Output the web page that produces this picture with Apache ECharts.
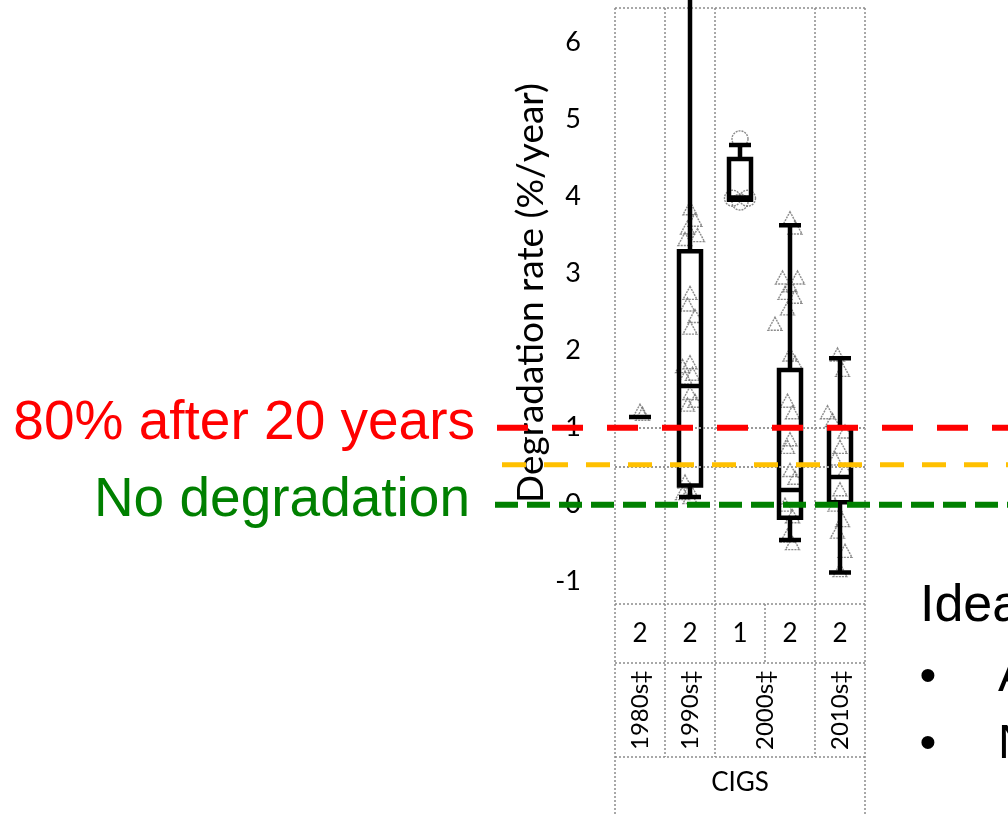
<!DOCTYPE html>
<html>
<head>
<meta charset="utf-8">
<script src="https://cdn.jsdelivr.net/npm/echarts@6/dist/echarts.min.js"></script>
<style>
  html, body { margin: 0; padding: 0; background: #fff; }
  #chart { width: 1008px; height: 815px; }
</style>
</head>
<body>
<div id="chart"></div>
<script>
// groups along the x axis (one box each)
const categories = ['CIGS 1980s', 'CIGS 1990s', 'CIGS 2000s a', 'CIGS 2000s b', 'CIGS 2010s'];
// [min, Q1, median, Q3, max] in %/year
const boxValues = [
  [1.14, 1.14, 1.14, 1.14, 1.14],
  [0.10, 0.25, 1.54, 3.29, 7.00],
  [3.96, 3.96, 3.99, 4.49, 4.67],
  [-0.46, -0.17, 0.19, 1.75, 3.63],
  [-0.88, 0.03, 0.36, 1.00, 1.90]
];
// individual results, [group position, rate]
const trianglePoints = [
  [0.0, 1.22], [0.05, 1.18],
  [1.0, 3.85], [1.1, 3.7], [0.95, 3.6], [1.15, 3.5], [0.9, 3.45],
  [1.0, 2.75], [0.95, 2.6], [1.1, 2.45], [1.0, 2.3],
  [0.85, 1.8], [1.0, 1.85], [0.9, 1.65], [1.05, 1.7],
  [1.0, 1.45], [0.95, 1.3], [1.1, 1.35],
  [0.9, 0.3], [1.0, 0.2], [0.85, 0.15], [1.0, 0.1],
  [3.0, 3.72], [3.1, 3.6],
  [2.85, 2.95], [3.15, 2.95], [3.0, 2.85], [2.9, 2.75], [3.1, 2.7],
  [2.95, 2.55], [2.7, 2.35],
  [3.0, 1.95], [3.1, 1.85],
  [2.95, 1.35], [3.05, 1.2],
  [3.0, 0.85], [2.95, 0.75],
  [3.0, 0.45], [3.1, 0.35],
  [2.9, 0.0], [3.05, -0.15],
  [2.95, -0.4], [3.05, -0.5],
  [3.95, 1.95], [4.05, 1.75], [3.75, 1.2], [3.85, 1.1], [4.1, 0.95],
  [4.0, 0.75], [3.9, 0.6], [4.1, 0.45], [4.0, 0.2], [3.9, 0.0],
  [4.05, -0.2], [3.95, -0.35], [4.1, -0.6], [4.0, -0.85]
];
const circlePoints = [[2.0, 4.75], [1.85, 3.98], [2.15, 3.98], [2.0, 3.93]];

// table under the plot
const studyCounts = ['2', '2', '1', '2', '2'];
const decadeLabels = ['1980s\u2021', '1990s\u2021', '2000s\u2021', '2010s\u2021'];
const decadeSpans = [[0, 0], [1, 1], [2, 3], [4, 4]];
const techLabel = 'CIGS';

// reference levels in %/year
const refValues = [1, 0.52, 0];
const refTexts = ['80% after 20 years', '', 'No degradation'];
const slideTitle = 'Ideal';
const slideBullets = ['A', 'N'];

const yMin = -1.29, yMax = 6.45;

const chart = echarts.init(document.getElementById('chart'));

chart.setOption({
  animation: false,
  grid: { left: 615, right: 143, top: 8, bottom: 211 },
  xAxis: [
    {
      type: 'category', data: categories,
      axisLabel: { show: false }, axisTick: { show: false },
      axisLine: { show: false }, splitLine: { show: false }
    },
    {
      type: 'value', min: -0.5, max: 4.5, show: false
    }
  ],
  yAxis: {
    type: 'value', min: yMin, max: yMax, minInterval: 1, maxInterval: 1,
    name: 'Degradation rate (%/year)', nameLocation: 'middle', nameGap: 65,
    nameTextStyle: { fontFamily: 'Lato', fontSize: 37, color: '#000', padding: [0, 0, 0, 26] },
    axisLine: { show: false }, axisTick: { show: false }, splitLine: { show: false },
    axisLabel: {
      fontFamily: 'Lato', fontSize: 27, color: '#000', margin: 34,
      showMinLabel: false, showMaxLabel: false
    }
  },
  series: [
    {
      type: 'scatter', xAxisIndex: 1, data: trianglePoints,
      symbol: 'triangle', symbolSize: [14, 13], z: 1,
      itemStyle: { color: 'rgba(0,0,0,0)', borderColor: '#6e6e6e', borderWidth: 1.4, borderType: [2, 1] }
    },
    {
      type: 'scatter', xAxisIndex: 1, data: circlePoints,
      symbol: 'circle', symbolSize: 16, z: 1,
      itemStyle: { color: 'rgba(0,0,0,0)', borderColor: '#6e6e6e', borderWidth: 1.4, borderType: [2, 1] }
    },
    {
      type: 'boxplot', data: boxValues, boxWidth: [22, 22], z: 3,
      itemStyle: { color: 'rgba(0,0,0,0)', borderColor: '#000', borderWidth: 4.5 },
      markLine: {
        silent: true, symbol: 'none', label: { show: false },
        lineStyle: { color: '#999', type: [2, 2], width: 2 },
        data: [{ yAxis: 1 }, { yAxis: 0.49 }]
      }
    }
  ]
});

// table lines, texts and reference lines placed through the axes
const px = v => chart.convertToPixel({ xAxisIndex: 1 }, v);
const py = v => chart.convertToPixel({ yAxisIndex: 0 }, v);
const plotTop = py(yMax), plotBottom = py(yMin);
const xLeft = px(-0.5), xRight = px(studyCounts.length - 0.5);
const row1 = plotBottom + 59, row2 = row1 + 94, tableBottom = 815;
const gray = { stroke: '#8c8c8c', lineWidth: 1.5, lineDash: [2, 2] };
const g = [];
const vline = (x, y1, y2) => g.push({ type: 'line', shape: { x1: x, y1: y1, x2: x, y2: y2 }, style: gray, z: 0 });
const hline = (y) => g.push({ type: 'line', shape: { x1: xLeft, y1: y, x2: xRight, y2: y }, style: gray, z: 0 });

hline(plotTop); hline(plotBottom); hline(row1); hline(row2);
vline(xLeft, plotTop, tableBottom); vline(xRight, plotTop, tableBottom);
decadeSpans.forEach((s, i) => {
  if (i > 0) vline(px(s[0] - 0.5), plotTop, row2);
});
studyCounts.forEach((c, i) => {
  if (i > 0 && !decadeSpans.some(s => s[0] === i)) vline(px(i - 0.5), plotBottom, row1);
  g.push({ type: 'text', x: px(i), y: (plotBottom + row1) / 2, z: 5,
    style: { text: c, fontFamily: 'Lato', fontSize: 26, fill: '#000', align: 'center', verticalAlign: 'middle' } });
});
decadeLabels.forEach((d, i) => {
  const cx = px((decadeSpans[i][0] + decadeSpans[i][1]) / 2);
  g.push({ type: 'text', x: cx, y: (row1 + row2) / 2, rotation: Math.PI / 2, z: 5,
    style: { text: d, fontFamily: 'Lato', fontSize: 24, fill: '#000', align: 'center', verticalAlign: 'middle' } });
});
g.push({ type: 'text', x: (xLeft + xRight) / 2, y: (row2 + tableBottom) / 2 - 3, z: 5,
  style: { text: techLabel, fontFamily: 'Lato', fontSize: 26, fill: '#000', align: 'center', verticalAlign: 'middle' } });

// dashed reference lines that run across the slide
const refStyles = [
  { stroke: '#ff0000', lineWidth: 6, lineDash: [31, 24], x1: 497 },
  { stroke: '#ffc000', lineWidth: 5, lineDash: [24, 18], x1: 502 },
  { stroke: '#008000', lineWidth: 6, lineDash: [23, 9], x1: 495 }
];
const refTextColors = ['#ff0000', '#ffc000', '#008000'];
refValues.forEach((v, i) => {
  const y = py(v);
  g.push({ type: 'line', z: 20, shape: { x1: refStyles[i].x1, y1: y, x2: 1008, y2: y },
    style: { stroke: refStyles[i].stroke, lineWidth: refStyles[i].lineWidth, lineDash: refStyles[i].lineDash } });
  if (refTexts[i]) {
    g.push({ type: 'text', x: i === 0 ? 475 : 470, y: y - 4, z: 20,
      style: { text: refTexts[i], fontFamily: 'Liberation Sans', fontSize: 55, fill: refTextColors[i], align: 'right', verticalAlign: 'middle' } });
  }
});

// slide text on the right, cut by the edge
g.push({ type: 'text', x: 920, y: 607, z: 20,
  style: { text: slideTitle, fontFamily: 'Liberation Sans', fontSize: 52, fill: '#000', align: 'left', verticalAlign: 'middle' } });
slideBullets.forEach((b, i) => {
  const y = 678 + i * 67;
  g.push({ type: 'text', x: 928, y: y, z: 20,
    style: { text: '\u2022', fontFamily: 'Liberation Sans', fontSize: 48, fill: '#000', align: 'center', verticalAlign: 'middle' } });
  g.push({ type: 'text', x: 998, y: y, z: 20,
    style: { text: b, fontFamily: 'Liberation Sans', fontSize: 48, fill: '#000', align: 'left', verticalAlign: 'middle' } });
});

chart.setOption({ graphic: g });
</script>
</body>
</html>
